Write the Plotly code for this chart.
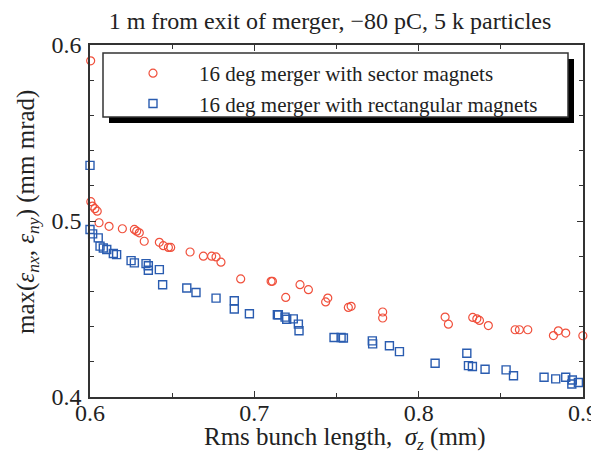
import plotly.graph_objects as go

# Sector magnets (red circles)
sector_x = [0.6004, 0.6005, 0.6015, 0.6030, 0.6044, 0.6055, 0.6116, 0.6197, 0.6270, 0.6284,
            0.6300, 0.6330, 0.6422, 0.6446, 0.6477, 0.6491, 0.6609, 0.6690, 0.6740, 0.6767,
            0.6797, 0.6917, 0.7102, 0.7110, 0.7191, 0.7278, 0.7329, 0.7434, 0.7447, 0.7572,
            0.7589, 0.7781, 0.7781, 0.8161, 0.8181, 0.8329, 0.8354, 0.8370, 0.8424, 0.8587,
            0.8613, 0.8664, 0.8820, 0.8850, 0.8895, 0.8999]
sector_y = [0.5910, 0.5110, 0.5085, 0.5070, 0.5056, 0.4990, 0.4970, 0.4956, 0.4952, 0.4942,
            0.4933, 0.4885, 0.4879, 0.4860, 0.4850, 0.4850, 0.4824, 0.4800, 0.4800, 0.4796,
            0.4766, 0.4671, 0.4657, 0.4657, 0.4566, 0.4638, 0.4610, 0.4540, 0.4562, 0.4509,
            0.4515, 0.4483, 0.4449, 0.4454, 0.4414, 0.4452, 0.4444, 0.4435, 0.4406, 0.4382,
            0.4382, 0.4382, 0.4349, 0.4376, 0.4363, 0.4348]

# Rectangular magnets (blue squares)
rect_x = [0.6000, 0.6000, 0.6016, 0.6050, 0.6061, 0.6081, 0.6102, 0.6142, 0.6162, 0.6250,
          0.6270, 0.6341, 0.6355, 0.6355, 0.6422, 0.6442, 0.6589, 0.6645, 0.6767, 0.6878,
          0.6878, 0.6970, 0.7140, 0.7146, 0.7187, 0.7197, 0.7237, 0.7268, 0.7272, 0.7485,
          0.7528, 0.7542, 0.7718, 0.7720, 0.7822, 0.7883, 0.8100, 0.8293, 0.8303, 0.8327,
          0.8404, 0.8532, 0.8577, 0.8763, 0.8834, 0.8895, 0.8935, 0.8932, 0.8972]
rect_y = [0.5316, 0.4952, 0.4927, 0.4904, 0.4857, 0.4847, 0.4838, 0.4815, 0.4809, 0.4775,
          0.4762, 0.4758, 0.4746, 0.4720, 0.4724, 0.4638, 0.4619, 0.4594, 0.4562, 0.4547,
          0.4500, 0.4473, 0.4467, 0.4467, 0.4454, 0.4442, 0.4444, 0.4414, 0.4376, 0.4338,
          0.4338, 0.4335, 0.4319, 0.4302, 0.4291, 0.4258, 0.4192, 0.4249, 0.4178, 0.4173,
          0.4158, 0.4154, 0.4121, 0.4112, 0.4103, 0.4112, 0.4097, 0.4074, 0.4082]

x_ticks = [0.6, 0.7, 0.8, 0.9]
y_ticks = [0.4, 0.5, 0.6]

FONT = "Liberation Serif"
RED = "#f0503c"
BLUE = "#2a5cb0"
AX = "#333333"
TXT = "#222222"

OFF = 8                      # page body margin
W, H = 599 - OFF, 453 - OFF  # figure size
# plot area in page pixels: x 90..583, y 45..397
L, T = 90 - OFF, 45 - OFF
R, B = W - (583 - OFF), H - (397 - OFF)
PW, PH = W - L - R, H - T - B


def px(x):   # page pixel x -> paper
    return (x - OFF - L) / PW


def py(y):   # page pixel y -> paper
    return (H - B - (y - OFF)) / PH


fig = go.Figure()
fig.add_trace(go.Scatter(
    x=sector_x, y=sector_y, mode="markers",
    name="16 deg merger with sector magnets",
    marker=dict(symbol="circle-open", size=8, color=RED, line=dict(width=1.2, color=RED)),
    cliponaxis=False))
fig.add_trace(go.Scatter(
    x=rect_x, y=rect_y, mode="markers",
    name="16 deg merger with rectangular magnets",
    marker=dict(symbol="square-open", size=8, color=BLUE, line=dict(width=1.4, color=BLUE)),
    cliponaxis=False))

# legend frame with drop shadow
fig.add_shape(type="rect", xref="paper", yref="paper",
              x0=px(109), x1=px(574), y0=py(123), y1=py(59),
              fillcolor="black", line=dict(width=0), layer="above")
fig.add_shape(type="rect", xref="paper", yref="paper",
              x0=px(103), x1=px(568), y0=py(117), y1=py(53),
              fillcolor="white", line=dict(width=1.5, color=AX), layer="above")

# axis titles
fig.add_annotation(text="Rms bunch length,  <i>\u03c3</i><sub><i>z</i></sub> (mm)",
                   xref="paper", yref="paper", x=px(345), y=py(438),
                   xanchor="center", yanchor="middle", showarrow=False,
                   font=dict(family=FONT, size=25, color=TXT))
fig.add_annotation(text="max(<i>\u03b5</i><sub><i>nx</i></sub>, <i>\u03b5</i><sub><i>ny</i></sub>) (mm mrad)",
                   xref="paper", yref="paper", x=px(27), y=py(212),
                   xanchor="center", yanchor="middle", showarrow=False, textangle=-90,
                   font=dict(family=FONT, size=25, color=TXT))

fig.update_layout(
    width=W, height=H,
    margin=dict(l=L, r=R, t=T, b=B, autoexpand=False),
    paper_bgcolor="white", plot_bgcolor="white",
    font=dict(family=FONT, size=19, color=TXT),
    title=dict(text="1 m from exit of merger, \u221280 pC, 5 k particles",
               x=px(330), xanchor="center", xref="paper",
               y=1 - (21 - OFF) / H, yanchor="middle",
               font=dict(family=FONT, size=24, color=TXT)),
    showlegend=True,
    legend=dict(x=px(107), y=py(53), xanchor="left", yanchor="top",
                bgcolor="rgba(0,0,0,0)", borderwidth=0,
                font=dict(family=FONT, size=21, color=TXT),
                itemwidth=82, tracegroupgap=0),
)

fig.update_xaxes(
    range=[0.6, 0.9], tickvals=x_ticks, ticktext=[str(v) for v in x_ticks],
    ticks="inside", ticklen=6, tickwidth=1.2, tickcolor=AX,
    minor=dict(dtick=0.05, ticks="inside", ticklen=4, tickwidth=1.2, tickcolor=AX),
    showline=True, linecolor=AX, linewidth=1.5, mirror="ticks",
    showgrid=False, zeroline=False, automargin=False,
    ticklabelstandoff=-7,
    tickfont=dict(family=FONT, size=24, color=TXT),
)
fig.update_yaxes(
    range=[0.4, 0.6], tickvals=y_ticks, ticktext=[str(v) for v in y_ticks],
    ticks="inside", ticklen=6, tickwidth=1.2, tickcolor=AX,
    minor=dict(dtick=0.02, ticks="inside", ticklen=4, tickwidth=1.2, tickcolor=AX),
    showline=True, linecolor=AX, linewidth=1.5, mirror="ticks",
    showgrid=False, zeroline=False, automargin=False,
    ticklabelstandoff=2,
    tickfont=dict(family=FONT, size=24, color=TXT),
)

fig.write_html("out.html")
